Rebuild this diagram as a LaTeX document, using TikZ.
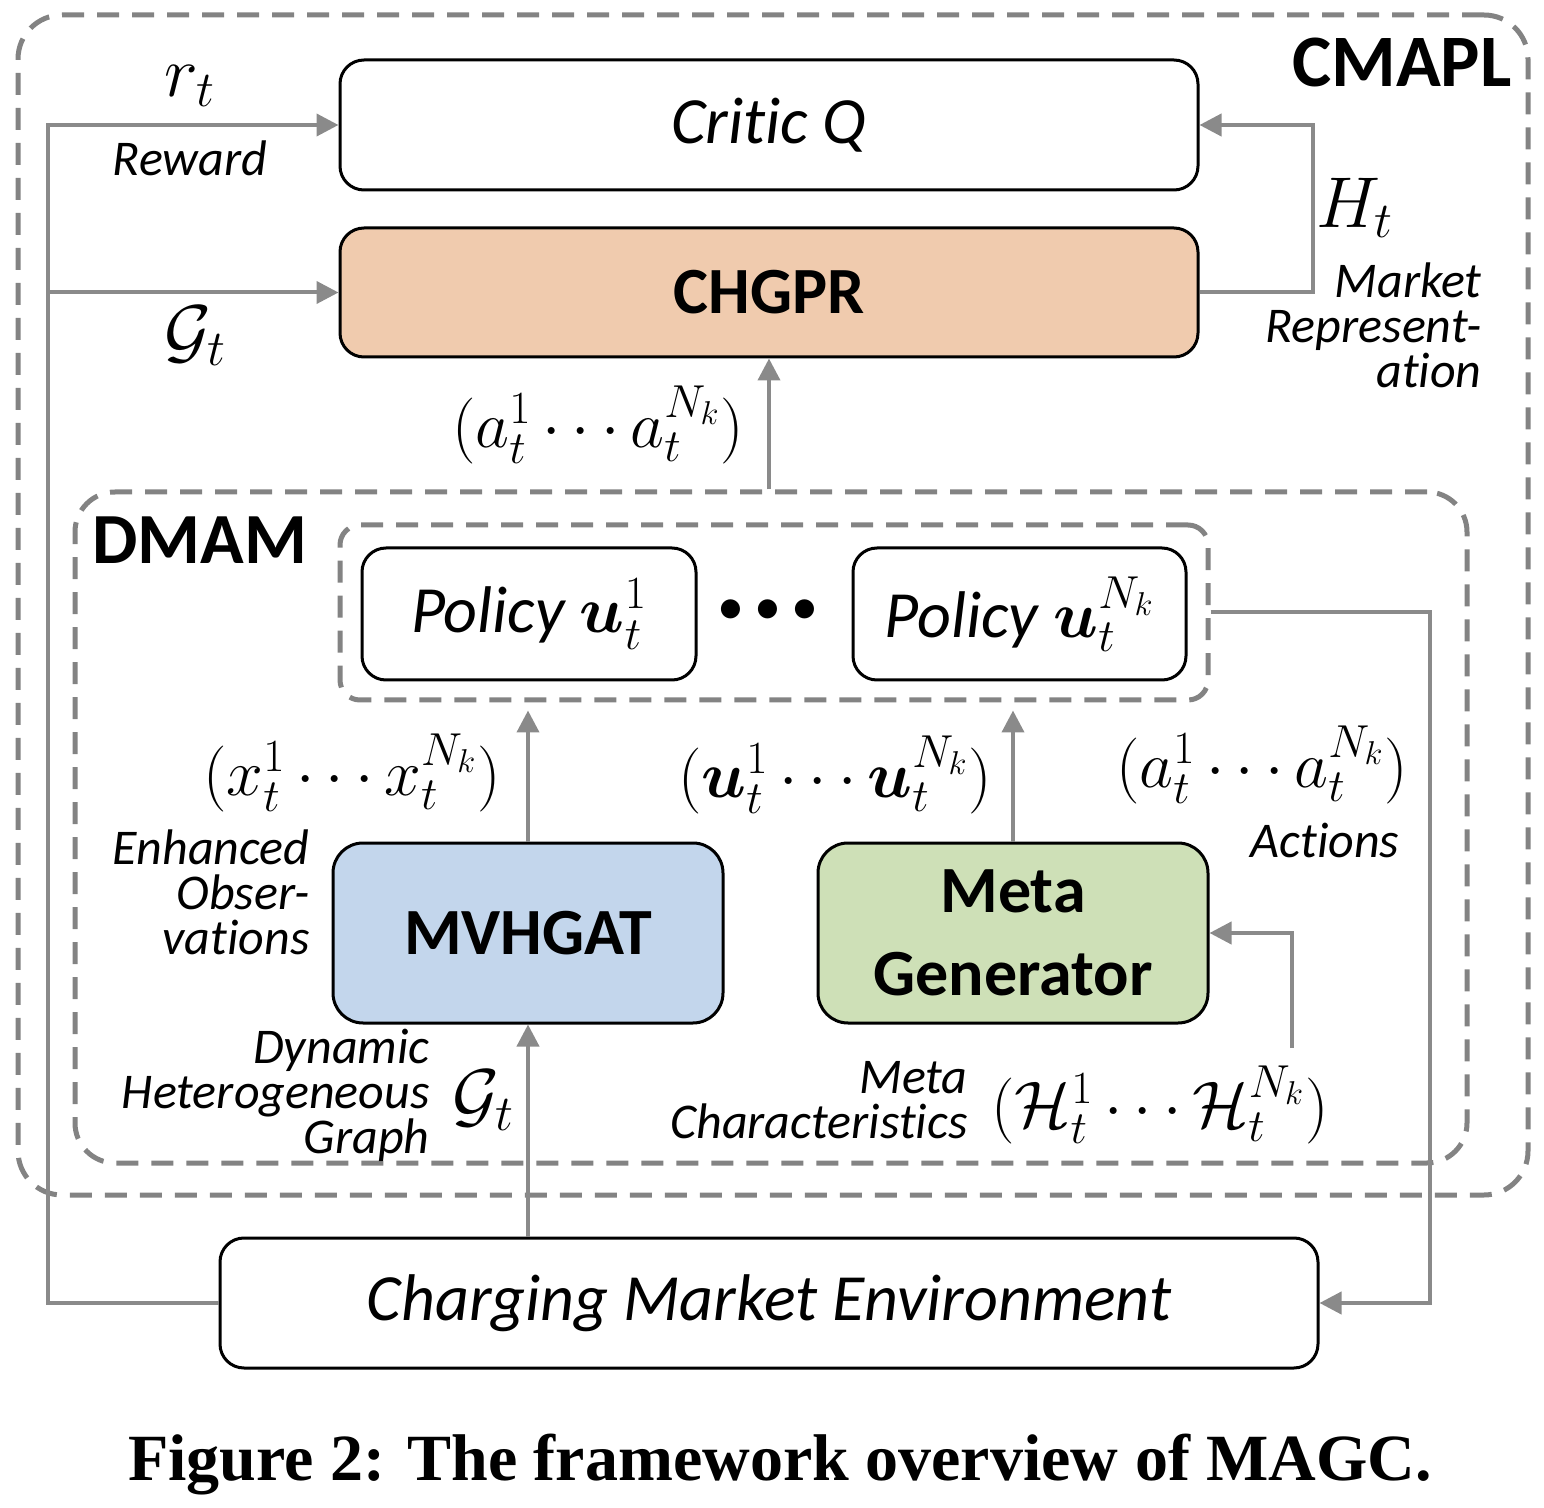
\RequirePackage{fix-cm}
\documentclass[tikz,border=0pt]{standalone}
\usepackage{amsmath,bm}
\usepackage{fontspec}
\setmainfont{Carlito}[Ligatures={NoCommon}]
\newfontfamily\capfont{Liberation Serif}
\usetikzlibrary{arrows.meta,calc}
\definecolor{agray}{HTML}{8A8A8A}
\definecolor{dgray}{HTML}{838383}
\definecolor{peach}{HTML}{F0CBAE}
\definecolor{lblue}{HTML}{C3D6EC}
\definecolor{lgreen}{HTML}{CEE0B7}
\begin{document}
\begin{tikzpicture}[x=0.5pt,y=-0.5pt,
  box/.style={draw, line width=1.5pt, rounded corners=12pt, inner sep=0pt, align=center, font=\fontsize{33}{38}\selectfont},
  conn/.style={draw=agray, line width=2pt, -{Triangle[length=11pt,width=11pt]}},
  dbox/.style={draw=dgray, line width=2.5pt, dash pattern=on 11pt off 6.5pt, inner sep=0pt},
  lab/.style={font=\fontsize{25}{22.5}\selectfont\itshape, inner sep=0pt, align=right},
  mth/.style={font=\fontsize{33}{38}\selectfont, inner sep=0pt},
  bigm/.style={font=\fontsize{36}{40}\selectfont, inner sep=0pt},
]
\useasboundingbox (0,0) rectangle (1544,1508);

% containers
\node[dbox, rounded corners=22pt, minimum width=755pt, minimum height=590pt] (cmapl) at (773,605) {};
\node[dbox, rounded corners=20pt, minimum width=696pt, minimum height=335.5pt] (dmam) at (771,827.5) {};
\node[dbox, rounded corners=10pt, minimum width=434pt, minimum height=87.5pt] (grp) at (774,612.5) {};

% boxes
\node[box, minimum width=429pt, minimum height=65pt] (critic) at (769,125) {\itshape Critic Q};
\node[box, fill=peach, minimum width=429pt, minimum height=64.5pt] (chgpr) at (769,292.5) {\bfseries CHGPR};
\node[box, minimum width=167pt, minimum height=66pt] (pol1) at (529,614) {\itshape Policy $\bm{u}_t^1$};
\node[box, minimum width=166.5pt, minimum height=66pt] (polN) at (1019.5,614) {\itshape Policy $\bm{u}_t^{N_k}$};
\node[box, fill=lblue, rounded corners=15pt, minimum width=195pt, minimum height=90pt] (mv) at (528,933) {\bfseries MVHGAT};
\node[box, fill=lgreen, rounded corners=15pt, minimum width=195pt, minimum height=90pt, font=\fontsize{33}{41.5}\selectfont] (meta) at (1013,933) {\bfseries Meta\\\bfseries Generator};
\node[box, minimum width=549pt, minimum height=65pt] (env) at (769,1303) {\itshape Charging Market Environment};

\node[font=\fontsize{27}{30}\selectfont, inner sep=0pt] (dots) at (768,612) {\textbullet\hspace{5pt}\textbullet\hspace{5pt}\textbullet};

% titles
\node[font=\fontsize{37}{40}\selectfont\bfseries, anchor=east, inner sep=0pt] (cmapllab) at (1512,62) {CMAPL};
\node[font=\fontsize{36}{40}\selectfont\bfseries, anchor=west, inner sep=0pt] (dmamlab) at (92,540) {DMAM};

% connectors
\coordinate (lx) at (48,0);
\coordinate (hx) at (1313,0);
\coordinate (rx) at (1430,0);
\coordinate (min) at (1292,1048);
\draw[conn] (env.west) -- (env.west -| lx) -- (lx |- critic.west) -- (critic.west);
\draw[conn] (lx |- chgpr.west) -- (chgpr.west);
\draw[conn] (chgpr.east) -- (chgpr.east -| hx) -- (hx |- critic.east) -- (critic.east);
\draw[conn] (chgpr.south |- dmam.north) -- (chgpr.south);
\draw[conn] (mv.north) -- ([yshift=-4pt]mv.north |- grp.south);
\draw[conn] (meta.north) -- ([yshift=-4pt]meta.north |- grp.south);
\draw[conn] (mv.south |- env.north) -- (mv.south);
\draw[conn] (grp.east) -- (grp.east -| rx) -- (rx |- env.east) -- (env.east);
\draw[conn] (min) -- (min |- meta.east) -- (meta.east);

% labels
\node[bigm] (rt) at (190,86) {$r_t$};
\node[lab] (reward) at (190,158) {Reward};
\node[bigm] (gt1) at (195,336) {$\mathcal{G}_t$};
\node[bigm] (ht) at (1355,208) {$H_t$};
\node[lab, anchor=east] (mrep) at (1482,325) {Market\\Represent-\\ation};
\node[mth] (acts1) at (598,425) {$(a_t^1\cdots a_t^{N_k})$};
\node[mth] (xs) at (352,773) {$(x_t^1\cdots x_t^{N_k})$};
\node[lab, anchor=east] (enh) at (310,892) {Enhanced\\Obser-\\vations};
\node[mth] (us) at (835,775) {$(\bm{u}_t^1\cdots \bm{u}_t^{N_k})$};
\node[mth] (acts2) at (1262,765) {$(a_t^1\cdots a_t^{N_k})$};
\node[lab] (actions) at (1325,840) {Actions};
\node[lab, anchor=east] (dhg) at (430,1095) {Dynamic\\Heterogeneous\\Graph};
\node[bigm] (gt2) at (483,1100) {$\mathcal{G}_t$};
\node[lab, anchor=east] (mch) at (968,1100) {Meta\\Characteristics};
\node[mth] (hs) at (1160,1105) {$(\mathcal{H}_t^1\cdots \mathcal{H}_t^{N_k})$};

% caption
\node[font=\capfont\bfseries\fontsize{33}{36}\selectfont, inner sep=0pt] (cap) at (780,1465) {Figure 2: The framework overview of MAGC.};
\end{tikzpicture}
\end{document}
